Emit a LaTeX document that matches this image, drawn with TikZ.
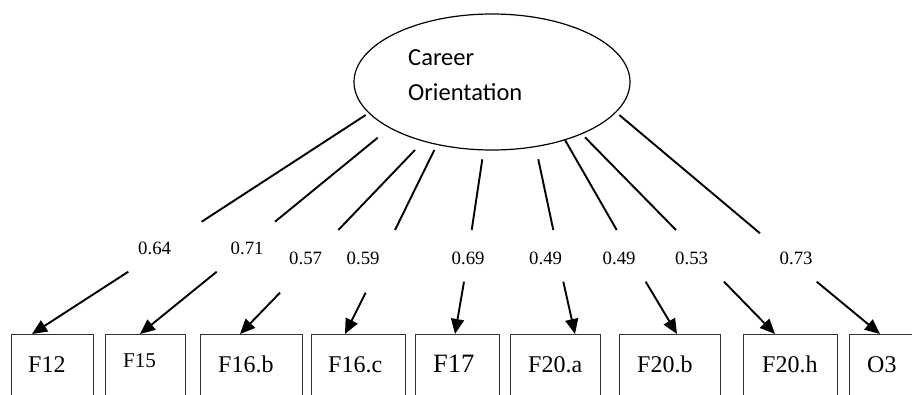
\documentclass[tikz,border=0pt]{standalone}
\usepackage{fontspec}
\setmainfont{Liberation Serif}
\newfontfamily\carlito{Carlito}
\usetikzlibrary{shapes.geometric,arrows.meta}
\tikzset{
  latent/.style={ellipse, draw=black, line width=1.2pt, minimum width=276pt, minimum height=136pt, inner sep=0pt},
  obsbox/.style={draw=black!80, line width=1.2pt, anchor=north west, minimum height=90pt, inner sep=0pt},
  boxtext/.style={anchor=base west, inner sep=0pt, font=\fontsize{24}{28}\selectfont},
  coeff/.style={anchor=base west, inner sep=0pt, font=\fontsize{18.8}{22}\selectfont},
  lattext/.style={anchor=base west, inner sep=0pt, font=\carlito\fontsize{24.5}{29}\selectfont},
  link/.style={line width=1.9pt, black},
  linkarrow/.style={link, -{Triangle[length=15pt,width=13pt]}}
}
\begin{document}
\begin{tikzpicture}[x=1pt,y=-1pt]
\useasboundingbox (0,0) rectangle (912,394);
\clip (0,0) rectangle (912,394);
% latent variable
\node[latent] (co) at (492,82) {};
\node[lattext] (coA) at (408,65) {Career};
\node[lattext] (coB) at (408,100) {Orientation};
% observed boxes
\node[obsbox, minimum width=82pt] (b1) at (11,334) {};
\node[obsbox, minimum width=80pt] (b2) at (105,334) {};
\node[obsbox, minimum width=102pt] (b3) at (200,334) {};
\node[obsbox, minimum width=94pt] (b4) at (311,334) {};
\node[obsbox, minimum width=84pt] (b5) at (415,334) {};
\node[obsbox, minimum width=90pt] (b6) at (510,334) {};
\node[obsbox, minimum width=101pt] (b7) at (619,334) {};
\node[obsbox, minimum width=94pt] (b8) at (743,334) {};
\node[obsbox, minimum width=70pt] (b9) at (849,334) {};
% box texts
\node[boxtext] (l1) at (28,372) {F12};
\node[boxtext, font=\fontsize{21}{25}\selectfont] (l2) at (123,367) {F15};
\node[boxtext] (l3) at (218,372) {F16.b};
\node[boxtext] (l4) at (328,372) {F16.c};
\node[boxtext, font=\fontsize{26.5}{30}\selectfont] (l5) at (433,372) {F17};
\node[boxtext] (l6) at (528,372) {F20.a};
\node[boxtext] (l7) at (637,372) {F20.b};
\node[boxtext] (l8) at (762,372) {F20.h};
\node[boxtext] (l9) at (867,372) {O3};
% coefficients
\node[coeff] (c1) at (138,254) {0.64};
\node[coeff] (c2) at (230.5,254) {0.71};
\node[coeff] (c3) at (289,264) {0.57};
\node[coeff] (c4) at (346.5,264) {0.59};
\node[coeff] (c5) at (451.5,264) {0.69};
\node[coeff] (c6) at (529,264) {0.49};
\node[coeff] (c7) at (602.5,264) {0.49};
\node[coeff] (c8) at (675,264) {0.53};
\node[coeff] (c9) at (779.5,264) {0.73};
% connector points
\coordinate (s1) at (365.7,115);   \coordinate (e1) at (201.7,221.7);
\coordinate (f1) at (128.3,271.7); \coordinate (t1) at (32,334);
\coordinate (s2) at (377.7,137.7); \coordinate (e2) at (275,221.7);
\coordinate (f2) at (216.7,271.7); \coordinate (t2) at (140,334);
\coordinate (s3) at (415,150);     \coordinate (e3) at (338.3,230);
\coordinate (f3) at (280,292.7);   \coordinate (t3) at (240,334);
\coordinate (s4) at (434.3,150);   \coordinate (e4) at (395,230);
\coordinate (f4) at (365.7,292.7); \coordinate (t4) at (345,334);
\coordinate (s5) at (482.3,159.3); \coordinate (e5) at (471.7,230);
\coordinate (f5) at (464,281.7);   \coordinate (t5) at (455,334);
\coordinate (s6) at (538.3,159.3); \coordinate (e6) at (553.3,230);
\coordinate (f6) at (563.3,281.7); \coordinate (t6) at (575,334);
\coordinate (s7) at (565,140);     \coordinate (e7) at (616.7,230);
\coordinate (f7) at (645.7,281.7); \coordinate (t7) at (677,334);
\coordinate (s8) at (585,137.3);   \coordinate (e8) at (676,230);
\coordinate (f8) at (724,281.7);   \coordinate (t8) at (775,334);
\coordinate (s9) at (619.3,115);   \coordinate (e9) at (760,233.3);
\coordinate (f9) at (816.7,281.7); \coordinate (t9) at (880,334);
% connectors
\foreach \i in {1,...,9}{
  \draw[link] (s\i) -- (e\i);
  \draw[linkarrow] (f\i) -- (t\i);
}
\end{tikzpicture}
\end{document}
